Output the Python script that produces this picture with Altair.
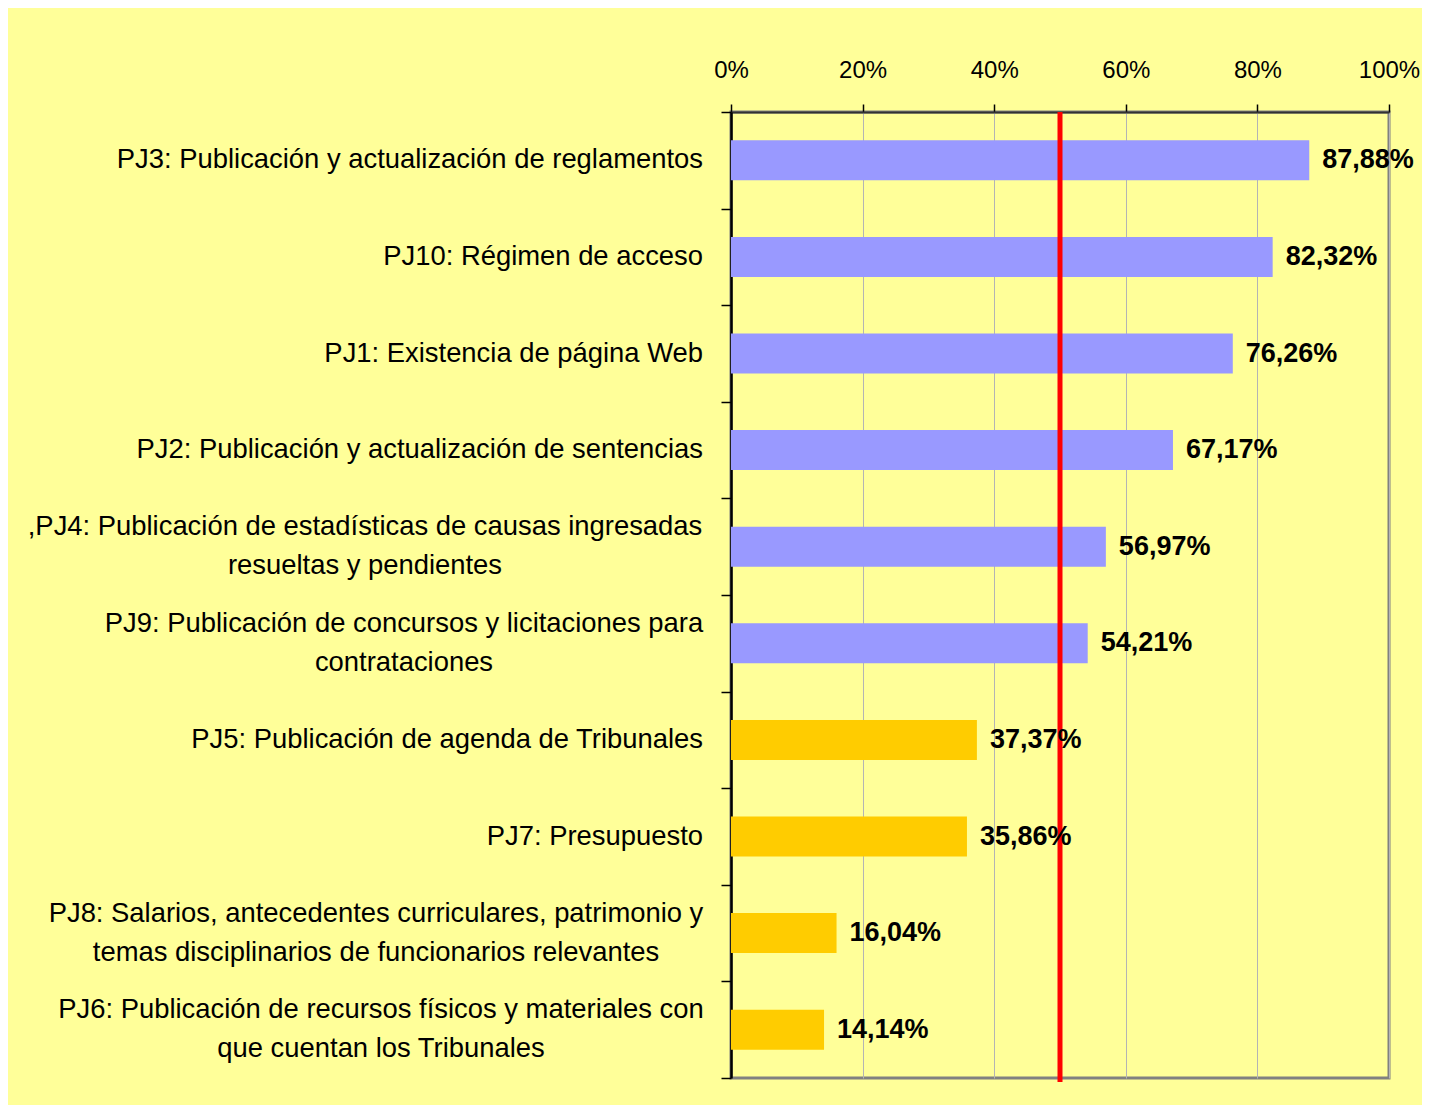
import altair as alt

# ---- data ----
categories = [
    "PJ3: Publicación y actualización de reglamentos",
    "PJ10: Régimen de acceso",
    "PJ1: Existencia de página Web",
    "PJ2: Publicación y actualización de sentencias",
    ",PJ4: Publicación de estadísticas de causas ingresadas|resueltas y pendientes",
    "PJ9: Publicación de concursos y licitaciones para|contrataciones",
    "PJ5: Publicación de agenda de Tribunales",
    "PJ7: Presupuesto",
    "PJ8: Salarios, antecedentes curriculares, patrimonio y|temas disciplinarios de funcionarios relevantes",
    "PJ6: Publicación de recursos físicos y materiales con|que cuentan los Tribunales",
]
values = [87.88, 82.32, 76.26, 67.17, 56.97, 54.21, 37.37, 35.86, 16.04, 14.14]
x_ticks = [0, 20, 40, 60, 80, 100]
threshold = [50]

# style: distance (px) left of the axis to the centre of each two-line label block
label_centre = {
    categories[4]: 366,
    categories[5]: 327,
    categories[8]: 355,
    categories[9]: 350,
}

rows = [{"cat": c, "v": v} for c, v in zip(categories, values)]
data = alt.InlineData(values=rows)
thr_data = alt.InlineData(values=[{"t": t} for t in threshold])

FONT = "Liberation Sans"
LABEL_SIZE = 27.4
TICK = 10

y_scale = alt.Scale(domain=categories, paddingInner=0, paddingOuter=0)

y_enc = alt.Y(
    "cat:N",
    scale=y_scale,
    axis=alt.Axis(
        title=None,
        labels=False,
        tickBand="extent",
        tickSize=TICK,
        tickColor="#000000",
        tickWidth=1.5,
        domainColor="#000000",
        domainWidth=2.5,
        grid=False,
    ),
)

x_scale = alt.Scale(domain=[0, 100], nice=False)

bars = alt.Chart(data).mark_bar(height={"band": 0.414}).encode(
    x=alt.X(
        "v:Q",
        scale=x_scale,
        axis=alt.Axis(
            orient="top",
            title=None,
            values=x_ticks,
            labelExpr="datum.value + '%'",
            labelFont=FONT,
            labelFontSize=24,
            labelColor="#000000",
            labelFlush=False,
            labelPadding=22,
            tickSize=8,
            tickColor="#000000",
            tickWidth=1.5,
            domainColor="#333333",
            domainWidth=2,
            grid=True,
            gridColor="#B4B4B4",
            gridWidth=1,
        ),
    ),
    y=y_enc,
    color=alt.condition("datum.v >= 50", alt.value("#9999FF"), alt.value("#FFCC00")),
)

value_labels = alt.Chart(data).transform_calculate(
    lbl="replace(format(datum.v, '.2f'), '.', ',') + '%'"
).mark_text(
    align="left", baseline="middle", dx=13, font=FONT, fontSize=27, fontWeight="bold", color="#000000"
).encode(
    x=alt.X("v:Q", scale=x_scale),
    y=alt.Y("cat:N", scale=y_scale),
    text=alt.Text("lbl:N"),
)

rule = alt.Chart(thr_data).mark_rule(color="#FF0000", strokeWidth=5).encode(
    x=alt.X("t:Q", scale=x_scale),
    y=alt.value(0),
    y2=alt.value(970),
)

# category labels: single-line ones right-aligned next to the axis
cat_single = alt.Chart(data).transform_filter(
    "indexof(datum.cat, '|') < 0"
).mark_text(
    align="right", baseline="middle", font=FONT, fontSize=LABEL_SIZE, color="#000000"
).encode(
    x=alt.value(-28),
    y=alt.Y("cat:N", scale=y_scale),
    text=alt.Text("cat:N"),
)

# two-line labels: centred lines, as in the reference
cat_multi = []
for key, dist in label_centre.items():
    cat_multi.append(
        alt.Chart(data)
        .transform_filter(f"datum.cat == {repr(key)}")
        .transform_calculate(lines="split(datum.cat, '|')")
        .mark_text(
            align="center", baseline="middle", dy=-19.5, lineHeight=39,
            font=FONT, fontSize=LABEL_SIZE, color="#000000",
        )
        .encode(
            x=alt.value(-dist),
            y=alt.Y("cat:N", scale=y_scale),
            text=alt.Text("lines:N"),
        )
    )

chart = (
    alt.layer(bars, rule, value_labels, cat_single, *cat_multi)
    .properties(
        width=658,
        height=966,
        autosize=alt.AutoSizeParams(type="none"),
        padding={"left": 723, "top": 104, "right": 33, "bottom": 27},
        background="#FFFF99",
    )
    .configure_view(stroke="#808080", strokeWidth=3)
)

chart.save("out.html", embed_options={"renderer": "svg", "actions": False})
